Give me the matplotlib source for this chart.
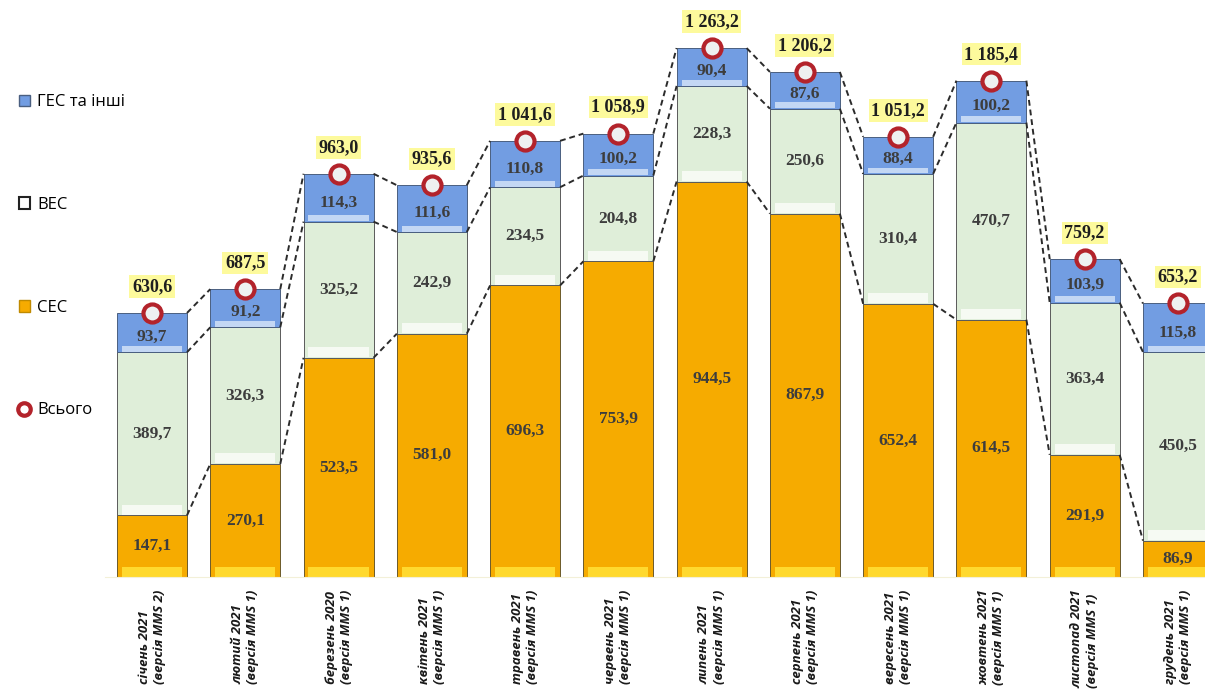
import numpy as np
import matplotlib
matplotlib.use("Agg")
import matplotlib.pyplot as plt
from matplotlib.lines import Line2D
from matplotlib.patches import Patch

# data (ГВт·год)
months = ["січень 2021\n(версія MMS 2)", "лютий 2021\n(версія MMS 1)",
          "березень 2020\n(версія MMS 1)", "квітень 2021\n(версія MMS 1)",
          "травень 2021\n(версія MMS 1)", "червень 2021\n(версія MMS 1)",
          "липень 2021\n(версія MMS 1)", "серпень 2021\n(версія MMS 1)",
          "вересень 2021\n(версія MMS 1)", "жовтень 2021\n(версія MMS 1)",
          "листопад 2021\n(версія MMS 1)", "грудень 2021\n(версія MMS 1)"]
ces = [147.1, 270.1, 523.5, 581.0, 696.3, 753.9, 944.5, 867.9, 652.4, 614.5, 291.9, 86.9]
ves = [389.7, 326.3, 325.2, 242.9, 234.5, 204.8, 228.3, 250.6, 310.4, 470.7, 363.4, 450.5]
ges = [93.7, 91.2, 114.3, 111.6, 110.8, 100.2, 90.4, 87.6, 88.4, 100.2, 103.9, 115.8]
total = [630.6, 687.5, 963.0, 935.6, 1041.6, 1058.9, 1263.2, 1206.2, 1051.2, 1185.4, 759.2, 653.2]

c_ces = "#f6ab00"
c_ves = "#dfeed9"
c_ges = "#729de2"
c_tot = "#b3232b"


def fmt(v):
    s = f"{v:,.1f}"
    return s.replace(",", " ").replace(".", ",")


x = np.arange(len(months))
w = 0.75
ces = np.array(ces)
ves = np.array(ves)
ges = np.array(ges)
total = np.array(total)

fig = plt.figure(figsize=(12.05, 6.91), dpi=100)
ax = fig.add_axes([105 / 1205, 114 / 691, 1100 / 1205, 577 / 691])

ax.bar(x, ces, w, color=c_ces, edgecolor="#6b5a2a", linewidth=0.7)
ax.bar(x, ves, w, bottom=ces, color=c_ves, edgecolor="#5a5a5a", linewidth=0.7)
ax.bar(x, ges, w, bottom=ces + ves, color=c_ges, edgecolor="#4a5f80", linewidth=0.7)

# light bevel at the bottom of each segment
ax.bar(x, 22, w * 0.86, bottom=1, color="#ffd92e", linewidth=0)
ax.bar(x, 24, w * 0.86, bottom=ces + 1, color="#f6faf3", linewidth=0)
ax.bar(x, 14, w * 0.86, bottom=ces + ves + 1, color="#c3d7f4", linewidth=0)

# dashed connectors between neighbouring bars
for lev in [ces, ces + ves, total]:
    for i in range(len(x) - 1):
        ax.plot([x[i] + w / 2, x[i + 1] - w / 2], [lev[i], lev[i + 1]],
                color="#2b2b2b", lw=1.4, dashes=(3, 2), zorder=1)

# segment labels
lab = dict(ha="center", va="center", fontsize=12.5, fontweight="bold",
           family="Liberation Serif", color="#3d3d3d")
for i in range(len(x)):
    ax.text(x[i], ces[i] / 2, fmt(ces[i]), **lab)
    ax.text(x[i], ces[i] + ves[i] / 2, fmt(ves[i]), **lab)
    ax.text(x[i], ces[i] + ves[i] + ges[i] * 0.4, fmt(ges[i]), **lab)

# totals
ax.plot(x, total, ls="none", marker="o", ms=13, mew=3,
        mfc="#eef1f1", mec=c_tot, zorder=5)
for i in range(len(x)):
    ax.annotate(fmt(total[i]), (x[i], total[i]), xytext=(0, 19),
                textcoords="offset points", ha="center", va="center",
                fontsize=13, fontweight="bold", family="Liberation Serif",
                color="#1e1e1e",
                bbox=dict(boxstyle="square,pad=0.15", fc="#fdfa9c", ec="none"))

ax.set_xlim(-0.504, 11.29)
ax.set_ylim(0, 1378)
ax.set_xticks(x)
ax.set_xticklabels(months, rotation=90, fontsize=9.5, fontstyle="italic",
                   fontweight="bold", family="Open Sans", multialignment="left",
                   color="#1a1a1a")
ax.tick_params(axis="x", length=0, pad=9)
ax.set_yticks([])
for s in ["top", "right", "left"]:
    ax.spines[s].set_visible(False)
ax.spines["bottom"].set_color("#f3f0d8")

handles = [Patch(fc=c_ges, ec="#4a5f80"),
           Patch(fc="white", ec="#222222", lw=1.5),
           Patch(fc=c_ces, ec="#c08a00"),
           Line2D([], [], ls="none", marker="o", ms=9, mfc="white", mec=c_tot, mew=3)]
fig.legend(handles, ["ГЕС та інші", "ВЕС", "СЕС", "Всього"], loc="upper left",
           bbox_to_anchor=(0.003, 0.885), frameon=False, handlelength=0.7,
           handleheight=0.7, handletextpad=0.4, labelspacing=5.2,
           prop={"family": "Open Sans", "size": 12})

fig.savefig("out.png", dpi=100)
